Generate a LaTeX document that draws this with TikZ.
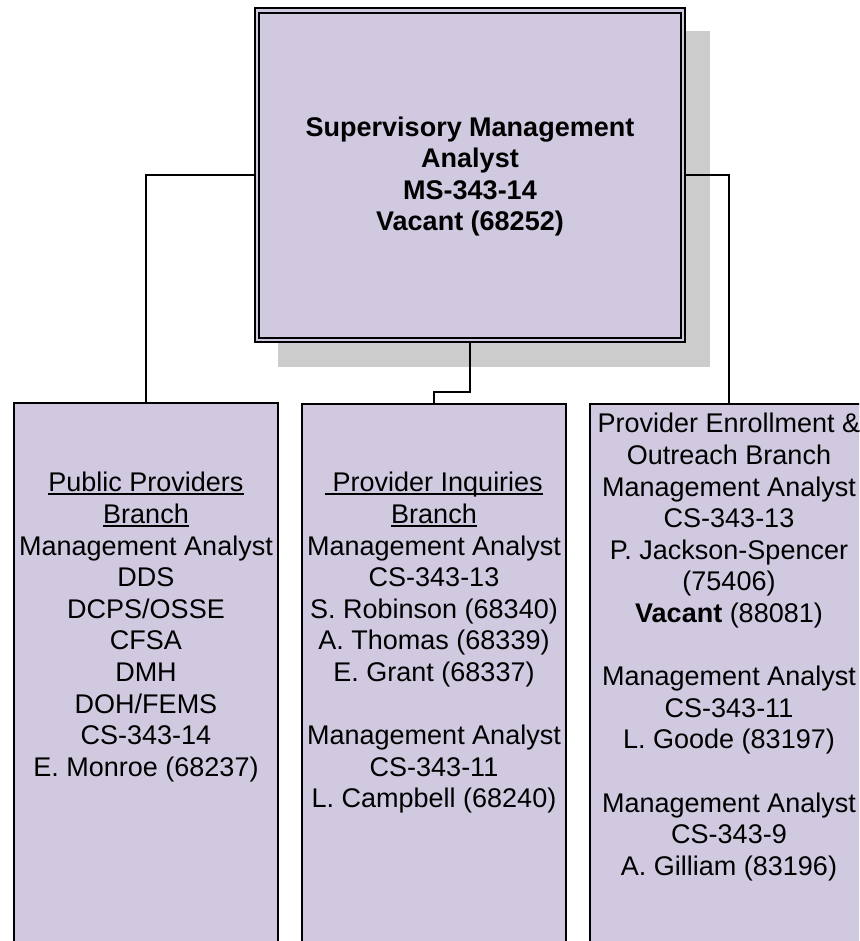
\documentclass[tikz,border=0pt]{standalone}
\usepackage{fontspec}
\setmainfont{Liberation Sans}
\usetikzlibrary{backgrounds}
\definecolor{lav}{RGB}{209,201,224}
\definecolor{shadowgray}{RGB}{204,204,204}
\newcommand\fl{\rule{0pt}{22pt}}
\newcommand\ulx[1]{\setbox0\hbox{#1}\rlap{\rule[-3pt]{\wd0}{1.6pt}}\box0}
\begin{document}
\begin{tikzpicture}[x=1pt,y=-1pt,
  txt/.style={font=\fontsize{27}{31.6}\selectfont, align=center, inner sep=0pt, anchor=north},
  supbox/.style={draw, fill=lav, line width=2.2pt, double=lav, double distance=2.2pt,
    minimum width=426pt, minimum height=329.5pt, outer sep=3.3pt, inner sep=0pt,
    font=\bfseries\fontsize{27}{31.6}\selectfont, align=center},
  branchbox/.style={draw, fill=lav, line width=2pt, minimum height=600pt, outer sep=0pt, anchor=north},
  link/.style={line width=2pt}]
\useasboundingbox (0,0) rectangle (859,941);
\node[supbox] (sup) at (470,175.25) {\fl Supervisory Management\\Analyst\\MS-343-14\\Vacant (68252)};
\begin{pgfonlayer}{background}
\fill[shadowgray] ([shift={(24,24)}]sup.north west) rectangle ([shift={(24,24)}]sup.south east);
\end{pgfonlayer}
\begin{scope}
\clip (0,0) rectangle (859,941);
\node[branchbox, minimum width=264pt] (lb) at (146,403) {};
\node[branchbox, minimum width=264pt] (mb) at (434,404) {};
\node[branchbox, minimum width=278pt] (rb) at (729,404) {};
\node[txt] (lbt) at ([yshift=-66.7pt]lb.north) {\fl\ulx{Public Providers}\\\ulx{Branch}\\Management Analyst\\DDS\\DCPS/OSSE\\CFSA\\DMH\\DOH/FEMS\\CS-343-14\\E. Monroe (68237)};
\node[txt] (mbt) at ([yshift=-65.7pt]mb.north) {\fl\ulx{\ Provider Inquiries}\\\ulx{Branch}\\Management Analyst\\CS-343-13\\S. Robinson (68340)\\A. Thomas (68339)\\E. Grant (68337)\\[31.6pt]Management Analyst\\CS-343-11\\L. Campbell (68240)};
\node[txt] (rbt) at ([yshift=-6.7pt]rb.north) {\fl Provider Enrollment \&\\Outreach Branch\\Management Analyst\\CS-343-13\\P. Jackson-Spencer\\(75406)\\\textbf{Vacant} (88081)\\[31.6pt]Management Analyst\\CS-343-11\\L. Goode (83197)\\[31.6pt]Management Analyst\\CS-343-9\\A. Gilliam (83196)};
\end{scope}
\coordinate (jog) at (470,392);
\draw[link] (sup.west) -| (lb.north);
\draw[link] (sup.east) -| (rb.north);
\draw[link] (sup.south) -- (jog) -| (mb.north);
\end{tikzpicture}
\end{document}
